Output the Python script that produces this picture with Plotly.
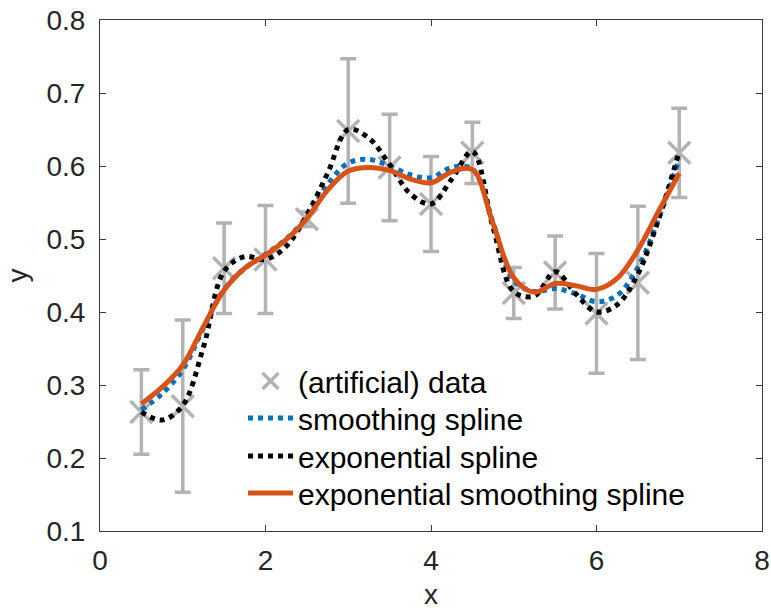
import plotly.graph_objects as go

# ---- data ----
x_data = [0.5, 1.0, 1.5, 2.0, 2.5, 3.0, 3.5, 4.0, 4.5, 5.0, 5.5, 6.0, 6.5, 7.0]
y_data = [0.263, 0.271, 0.460, 0.472, 0.527, 0.648, 0.598, 0.548, 0.618, 0.426, 0.454, 0.398, 0.440, 0.618]
y_err = [0.058, 0.118, 0.062, 0.074, 0.010, 0.099, 0.073, 0.065, 0.042, 0.035, 0.050, 0.082, 0.105, 0.061]

x_curve = [0.5, 0.75, 1.0, 1.25, 1.5, 1.75, 2.0, 2.25, 2.5, 2.75, 3.0, 3.25, 3.5, 3.75,
           4.0, 4.25, 4.5, 4.75, 5.0, 5.25, 5.5, 5.75, 6.0, 6.25, 6.5, 6.75, 7.0]
y_smooth = [0.266, 0.288, 0.321, 0.378, 0.431, 0.460, 0.479, 0.500, 0.530, 0.575, 0.604, 0.609, 0.600, 0.588,
            0.584, 0.598, 0.596, 0.522, 0.443, 0.428, 0.432, 0.425, 0.414, 0.423, 0.461, 0.528, 0.610]
y_exp = [0.263, 0.252, 0.272, 0.352, 0.456, 0.476, 0.472, 0.490, 0.533, 0.590, 0.650, 0.638, 0.602, 0.562,
         0.548, 0.582, 0.620, 0.516, 0.428, 0.422, 0.455, 0.425, 0.400, 0.410, 0.452, 0.527, 0.620]
y_expsmooth = [0.274, 0.297, 0.327, 0.380, 0.430, 0.460, 0.478, 0.499, 0.528, 0.567, 0.593, 0.598, 0.594, 0.582,
               0.577, 0.592, 0.595, 0.521, 0.447, 0.427, 0.439, 0.436, 0.431, 0.446, 0.485, 0.538, 0.590]

x_ticks = [0, 2, 4, 6, 8]
y_ticks = [0.1, 0.2, 0.3, 0.4, 0.5, 0.6, 0.7, 0.8]

names = ["(artificial) data", "smoothing spline", "exponential spline", "exponential smoothing spline"]

GRAY = "#b3b3b3"
BLUE = "#0072BD"
ORANGE = "#D95319"
FONT = "Liberation Sans, Arial, Helvetica, sans-serif"
TXT = "#262626"
FS = 28
LFS = 30

fig = go.Figure()
fig.add_trace(go.Scatter(
    x=x_data, y=y_data, mode="markers", name=names[0], legend="legend", showlegend=True,
    marker=dict(symbol="x-thin", size=22, line=dict(width=3.5, color=GRAY), color=GRAY),
    error_y=dict(type="data", array=y_err, visible=True, color=GRAY, thickness=3.5, width=8),
))
fig.add_trace(go.Scatter(
    x=x_curve, y=y_smooth, mode="lines", name=names[1], legend="legend2", showlegend=True,
    line=dict(color=BLUE, width=5, dash="5px,5px", shape="spline"),
))
fig.add_trace(go.Scatter(
    x=x_curve, y=y_exp, mode="lines", name=names[2], legend="legend3", showlegend=True,
    line=dict(color="black", width=5, dash="5px,5px", shape="spline"),
))
fig.add_trace(go.Scatter(
    x=x_curve, y=y_expsmooth, mode="lines", name=names[3], legend="legend4", showlegend=True,
    line=dict(color=ORANGE, width=5, shape="spline"),
))

L, R, T, B = 100, 9, 20, 79
W, H = 771, 610
ph = H - T - B


def ypos(py):
    return 1 - (py - T) / ph


legx = (243 - L) / (W - L - R)
leg_common = dict(x=legx, xanchor="left", yanchor="middle", bgcolor="rgba(0,0,0,0)",
                  borderwidth=0, itemwidth=45, font=dict(family=FONT, size=LFS, color="black"))

axis_common = dict(showline=True, linecolor="#3a3a3a", linewidth=1, mirror="ticks",
                   ticks="inside", ticklen=6, tickcolor="#3a3a3a", tickwidth=1,
                   showgrid=False, zeroline=False,
                   tickfont=dict(family=FONT, size=FS, color=TXT))

fig.update_layout(
    width=W, height=H,
    showlegend=True,
    margin=dict(l=L, r=R, t=T, b=B, autoexpand=False),
    paper_bgcolor="white", plot_bgcolor="white",
    font=dict(family=FONT, size=FS, color=TXT),
    xaxis=dict(range=[0, 8], tickvals=x_ticks, ticktext=[str(v) for v in x_ticks],
               title=dict(text="x", font=dict(family=FONT, size=FS, color=TXT), standoff=10),
               ticklabelstandoff=4, **axis_common),
    yaxis=dict(range=[0.1, 0.8], tickvals=y_ticks, ticktext=[f"{v:.1f}" for v in y_ticks],
               title=dict(text="y", font=dict(family=FONT, size=FS, color=TXT), standoff=10),
               ticklabelstandoff=8, **axis_common),
    legend=dict(y=ypos(381), **leg_common),
    legend2=dict(y=ypos(418), **leg_common),
    legend3=dict(y=ypos(456), **leg_common),
    legend4=dict(y=ypos(493), **leg_common),
)

fig.write_html("out.html")
